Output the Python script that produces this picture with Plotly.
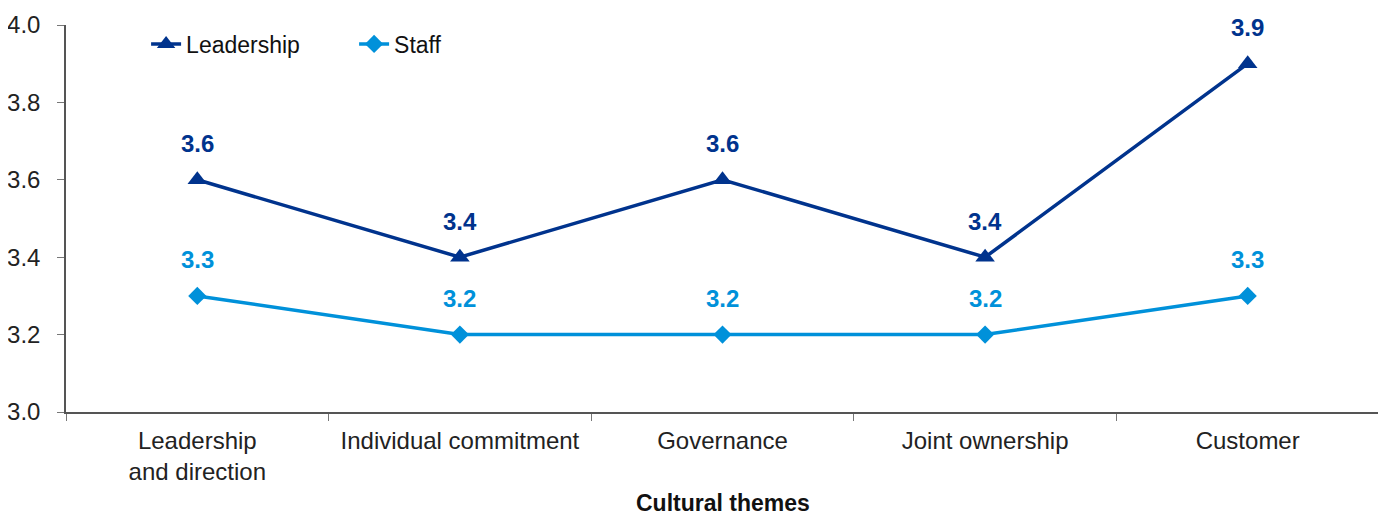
import plotly.graph_objects as go

categories = ["Leadership<br>and direction", "Individual commitment", "Governance", "Joint ownership", "Customer"]
leadership = [3.6, 3.4, 3.6, 3.4, 3.9]
staff = [3.3, 3.2, 3.2, 3.2, 3.3]
y_ticks = [3.0, 3.2, 3.4, 3.6, 3.8, 4.0]

dark_blue = "#00338D"
light_blue = "#0091DA"
font_family = "Liberation Sans, Arial, sans-serif"
FS = 24

fig = go.Figure()
fig.add_trace(go.Scatter(
    x=categories, y=leadership, name="Leadership", mode="lines+markers",
    line=dict(color=dark_blue, width=3.5),
    marker=dict(symbol="triangle-up", size=17, color=dark_blue),
))
fig.add_trace(go.Scatter(
    x=categories, y=staff, name="Staff", mode="lines+markers",
    line=dict(color=light_blue, width=3.5),
    marker=dict(symbol="diamond", size=14, color=light_blue),
))

for cat, v in zip(categories, leadership):
    fig.add_annotation(x=cat, y=v, text=f"<b>{v:.1f}</b>", showarrow=False,
                       yshift=36, font=dict(size=FS, color=dark_blue, family=font_family))
for cat, v in zip(categories, staff):
    fig.add_annotation(x=cat, y=v, text=f"<b>{v:.1f}</b>", showarrow=False,
                       yshift=36, font=dict(size=FS, color=light_blue, family=font_family))

fig.add_annotation(x=0.5, y=-(503 - 412) / 387, xref="paper", yref="paper",
                   text="<b>Cultural themes</b>", showarrow=False, yanchor="middle",
                   font=dict(size=23, color="#111111", family=font_family))

fig.update_layout(
    width=1386, height=515,
    margin=dict(l=58, r=15, t=17, b=111, autoexpand=False),
    paper_bgcolor="white", plot_bgcolor="white",
    font=dict(family=font_family, size=FS, color="#222222"),
    showlegend=True,
    legend=dict(orientation="h", x=0.061, y=(412 - 44) / 387, xanchor="left", yanchor="middle",
                font=dict(size=23, color="#111111"), bgcolor="rgba(0,0,0,0)",
                entrywidth=163, entrywidthmode="pixels"),
    xaxis=dict(
        range=[-0.5, 4.5],
        showline=True, linecolor="#555555", linewidth=1.5,
        ticks="outside", ticklen=7, tickcolor="#777777", tickson="boundaries",
        showgrid=False, zeroline=False,
        tickfont=dict(size=FS, color="#222222"),
        ticklabelstandoff=6,
    ),
    yaxis=dict(
        range=[3.0, 4.0], tickvals=y_ticks, ticktext=[f"{t:.1f}" for t in y_ticks],
        showline=True, linecolor="#555555", linewidth=1.5,
        ticks="outside", ticklen=7, tickcolor="#777777",
        showgrid=False, zeroline=False,
        tickfont=dict(size=FS, color="#222222"),
        ticklabelstandoff=12,
    ),
)

fig.write_html("out.html")
